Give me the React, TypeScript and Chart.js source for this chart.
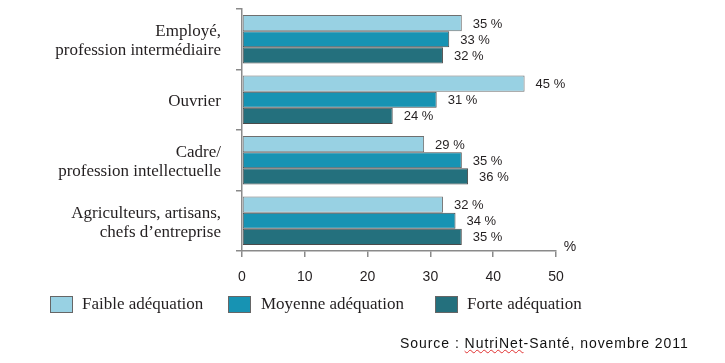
import React, { useEffect, useRef } from "react";
import { Chart, registerables } from "chart.js";

Chart.register(...registerables);

const categories: string[][] = [
  ["Employé,", "profession intermédiaire"],
  ["Ouvrier"],
  ["Cadre/", "profession intellectuelle"],
  ["Agriculteurs, artisans,", "chefs d’entreprise"],
];
const faible: number[] = [35, 45, 29, 32];
const moyenne: number[] = [33, 31, 35, 34];
const forte: number[] = [32, 24, 36, 35];
const seriesNames: string[] = ["Faible adéquation", "Moyenne adéquation", "Forte adéquation"];
const xTicks: number[] = [0, 10, 20, 30, 40, 50];

const COLORS = ["#98D1E3", "#1793B3", "#24707D"];
const SERIF = "'Liberation Serif', 'DejaVu Serif', serif";
const SANS = "'Liberation Sans', 'DejaVu Sans', sans-serif";
const TEXT = "#231f20";
const AXIS = "#8a8a8a";

const labelPlugin = {
  id: "valueLabels",
  afterDatasetsDraw(chart: any) {
    const ctx = chart.ctx;
    ctx.save();
    ctx.font = `13px ${SANS}`;
    ctx.fillStyle = TEXT;
    ctx.textBaseline = "middle";
    ctx.textAlign = "left";
    chart.data.datasets.forEach((ds: any, i: number) => {
      const meta = chart.getDatasetMeta(i);
      meta.data.forEach((el: any, j: number) => {
        ctx.fillText(`${ds.data[j]} %`, el.x + 11, el.y + 1);
      });
    });
    const area = chart.chartArea;
    ctx.font = `14px ${SANS}`;
    ctx.textAlign = "center";
    ctx.fillText("%", area.right + 14, area.bottom - 4);
    ctx.restore();
  },
};

export default function App() {
  const canvasRef = useRef<HTMLCanvasElement | null>(null);

  useEffect(() => {
    if (!canvasRef.current) return;
    const datasets = [faible, moyenne, forte].map((d, i) => ({
      label: seriesNames[i],
      data: d,
      backgroundColor: COLORS[i],
      borderColor: i === 0 ? "#6f6f6f" : "#4a4a4a",
      borderWidth: 1,
      borderSkipped: false,
      categoryPercentage: 0.8,
      barPercentage: 1.0,
    }));
    const chart = new Chart(canvasRef.current, {
      type: "bar",
      data: { labels: categories as any, datasets },
      options: {
        indexAxis: "y",
        responsive: false,
        animation: false,
        layout: { padding: { top: 9, right: 169, left: 0, bottom: 0 } },
        plugins: { legend: { display: false }, tooltip: { enabled: false } },
        scales: {
          x: {
            min: 0,
            max: 50,
            afterBuildTicks: (s: any) => {
              s.ticks = xTicks.map((v) => ({ value: v }));
            },
            ticks: { color: TEXT, font: { family: SANS, size: 14 }, padding: 12 },
            grid: { drawOnChartArea: false, tickLength: 6, color: AXIS, lineWidth: 1.5 },
            border: { color: AXIS, width: 1.5 },
            afterFit: (s: any) => {
              s.height = 112;
              s.paddingLeft = 0;
              s.paddingRight = 0;
            },
          },
          y: {
            ticks: {
              color: TEXT,
              font: { family: SERIF, size: 17, lineHeight: 1.12 },
              padding: 15,
              labelOffset: 2,
            },
            grid: { offset: true, drawOnChartArea: false, tickLength: 6, color: AXIS, lineWidth: 1.5 },
            border: { color: AXIS, width: 1.5 },
            afterFit: (s: any) => {
              s.width = 242;
              s.paddingTop = 0;
              s.paddingBottom = 0;
            },
          },
        },
      } as any,
      plugins: [labelPlugin],
    });
    return () => chart.destroy();
  }, []);

  const legendPos = [
    { box: 50, text: 82 },
    { box: 228, text: 261 },
    { box: 435, text: 467 },
  ];

  return (
    <div style={{ position: "absolute", left: 0, top: 0, width: 725, height: 363, background: "#fff" }}>
      <canvas ref={canvasRef} width={725} height={363} style={{ position: "absolute", left: 0, top: 0 }} />
      {seriesNames.map((n, i) => (
        <React.Fragment key={n}>
          <div
            style={{
              position: "absolute",
              left: legendPos[i].box,
              top: 296,
              width: 21,
              height: 15,
              background: COLORS[i],
              border: "1px solid #666",
            }}
          />
          <div
            style={{
              position: "absolute",
              left: legendPos[i].text,
              top: 294,
              fontFamily: SERIF,
              fontSize: 17,
              lineHeight: "20px",
              color: TEXT,
              whiteSpace: "nowrap",
            }}
          >
            {n}
          </div>
        </React.Fragment>
      ))}
      <div
        style={{
          position: "absolute",
          left: 400,
          top: 333,
          fontFamily: SANS,
          fontSize: 14,
          lineHeight: "20px",
          letterSpacing: "0.95px",
          color: "#111",
          whiteSpace: "nowrap",
        }}
      >
        Source :{" "}
        <span style={{ textDecoration: "underline wavy #e03030", textDecorationThickness: "1px" }}>NutriNet</span>
        -Santé, novembre 2011
      </div>
    </div>
  );
}
